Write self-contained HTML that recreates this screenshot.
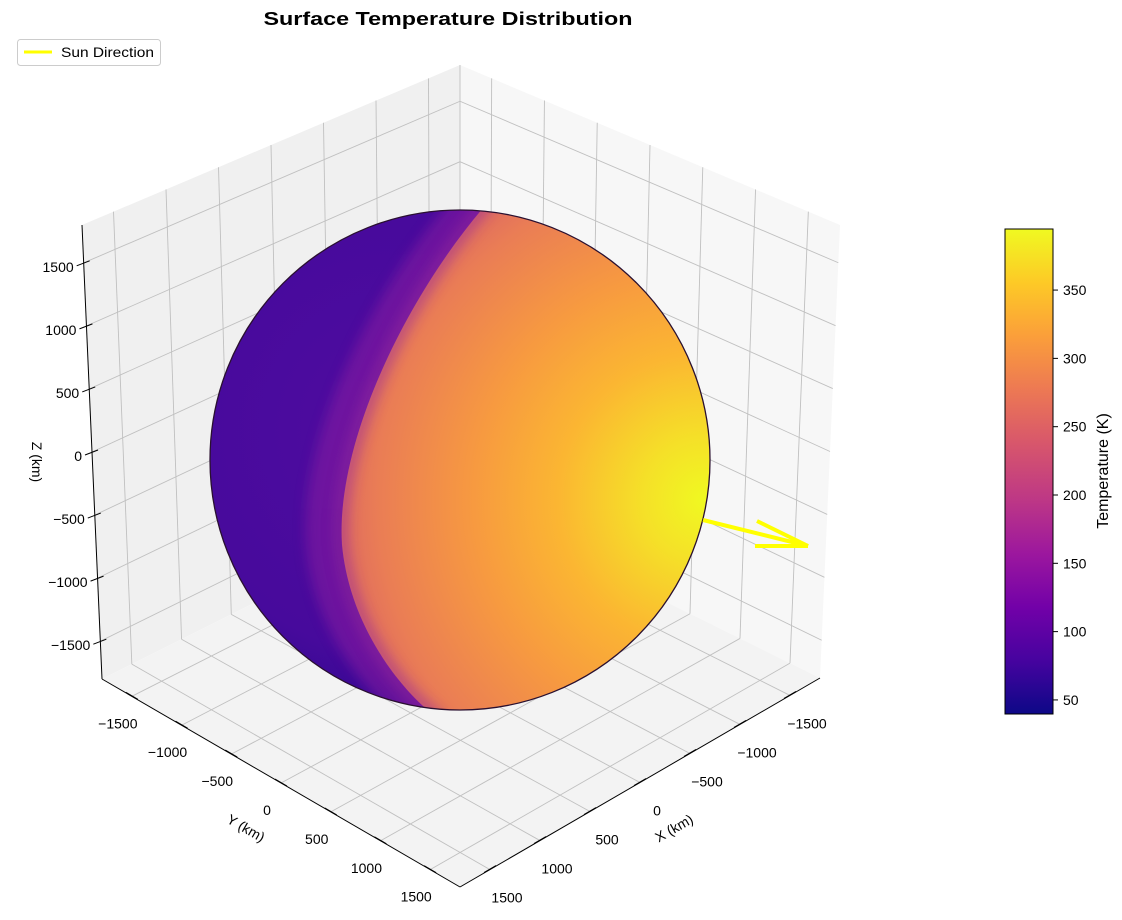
<!DOCTYPE html>
<html><head><meta charset="utf-8">
<style>
html,body{margin:0;padding:0;background:#fff;}
svg{display:block;font-family:"Liberation Sans","DejaVu Sans",sans-serif;}
</style></head>
<body>
<svg id="chart" width="1122" height="920" viewBox="0 0 1122 920" xmlns="http://www.w3.org/2000/svg">
<defs>
  <linearGradient id="plasma" x1="0" y1="1" x2="0" y2="0">
    <stop offset="0" stop-color="#0d0887"/><stop offset="0.11" stop-color="#46039f"/>
    <stop offset="0.22" stop-color="#7201a8"/><stop offset="0.33" stop-color="#9c179e"/>
    <stop offset="0.44" stop-color="#bd3786"/><stop offset="0.56" stop-color="#d8576b"/>
    <stop offset="0.67" stop-color="#ed7953"/><stop offset="0.78" stop-color="#fb9f3a"/>
    <stop offset="0.89" stop-color="#fdca26"/><stop offset="1" stop-color="#f0f921"/>
  </linearGradient>
  <radialGradient id="darkGrad" gradientUnits="userSpaceOnUse" cx="400" cy="430" r="280">
    <stop offset="0" stop-color="#4f0ca0"/><stop offset="0.8" stop-color="#470a9c"/><stop offset="1" stop-color="#360893"/>
  </radialGradient>
  <radialGradient id="litGrad" gradientUnits="userSpaceOnUse" cx="705" cy="500" r="420">
    <stop offset="0" stop-color="#f0f921"/><stop offset="0.15" stop-color="#f5e028"/>
    <stop offset="0.35" stop-color="#fbb632"/><stop offset="0.55" stop-color="#f79a40"/>
    <stop offset="0.78" stop-color="#ea7d55"/><stop offset="1" stop-color="#cf5270"/>
  </radialGradient>
  <clipPath id="sphereClip"><circle cx="460" cy="460" r="250"/></clipPath>
  <filter id="blur" x="-100%" y="-20%" width="300%" height="140%"><feGaussianBlur stdDeviation="6"/></filter>
</defs>
<g id="panes"></g>
<g id="grid"></g>
<g id="sphere">
  <circle cx="460" cy="460" r="250" fill="url(#darkGrad)"/>
  <g clip-path="url(#sphereClip)">
    <path d="M478,200 C395,290 318,440 326,545 C333,630 395,695 432,720" fill="none" stroke="#8a1aa0" stroke-width="40" opacity="0.55" filter="url(#blur)"/>
    <path d="M490,200 C410,290 335,440 342,545 C350,630 405,695 440,720 L720,720 L720,200 Z" fill="url(#litGrad)"/>
    <path d="M490,200 C410,290 335,440 342,545 C350,630 405,695 440,720" fill="none" stroke="#9a2a9a" stroke-width="14" opacity="0.5" filter="url(#blur)"/>
  </g>
  <circle cx="460" cy="460" r="250" fill="none" stroke="#2a1030" stroke-width="1.3"/>
</g>
<g id="sun-arrow" stroke="#ffff00" stroke-width="4" fill="none">
  <line x1="703" y1="520" x2="808" y2="546"/>
  <line x1="757" y1="521" x2="808" y2="546"/>
  <line x1="755" y1="546" x2="808" y2="546"/>
</g>
<g id="axes"></g>
<text x="448" y="25" text-anchor="middle" font-size="18" font-weight="bold" textLength="369" lengthAdjust="spacingAndGlyphs">Surface Temperature Distribution</text>
<g>
  <rect x="17.5" y="39.5" width="143" height="26" rx="3" fill="#fff" stroke="#cccccc"/>
  <line x1="24" y1="52" x2="52" y2="52" stroke="#ffff00" stroke-width="3"/>
  <text x="61" y="57" font-size="14" textLength="93" lengthAdjust="spacingAndGlyphs">Sun Direction</text>
</g>
<g id="colorbar"></g>
</svg>
<script>
const axisTicks = [-1500, -1000, -500, 0, 500, 1000, 1500];
const axisMin = -1800, axisMax = 1800;
const cbarTicks = [50, 100, 150, 200, 250, 300, 350];
const cbarMin = 39.7, cbarMax = 394.7;

const NS = "http://www.w3.org/2000/svg";
const floorC = [[460,500],[102,679],[820,678],[460,887]];
const topC = [[460,65],[82,225],[840,225],[460,387]];
function bil(c,u,v){
  const x=(1-u)*(1-v)*c[0][0]+u*(1-v)*c[1][0]+(1-u)*v*c[2][0]+u*v*c[3][0];
  const y=(1-u)*(1-v)*c[0][1]+u*(1-v)*c[1][1]+(1-u)*v*c[2][1]+u*v*c[3][1];
  return [x,y];
}
function P(x,y,z){
  const u=(x-axisMin)/(axisMax-axisMin), v=(y-axisMin)/(axisMax-axisMin), w=(z-axisMin)/(axisMax-axisMin);
  const b=bil(floorC,u,v), t=bil(topC,u,v);
  return [b[0]+w*(t[0]-b[0]), b[1]+w*(t[1]-b[1])];
}
function mk(parent,tag,attrs){
  const e=document.createElementNS(NS,tag);
  for(const k in attrs) e.setAttribute(k,attrs[k]);
  parent.appendChild(e); return e;
}
const lo=axisMin, hi=axisMax;
const panes=document.getElementById('panes');
function poly(pts,fill,name){
  const e=mk(panes,'polygon',{points:pts.map(p=>p.join(',')).join(' '),fill:fill});
  
  
}
poly([P(lo,lo,lo),P(hi,lo,lo),P(hi,lo,hi),P(lo,lo,hi)],'#f0f0f0','left-pane');
poly([P(lo,lo,lo),P(lo,hi,lo),P(lo,hi,hi),P(lo,lo,hi)],'#f7f7f7','right-pane');
poly([P(lo,lo,lo),P(hi,lo,lo),P(hi,hi,lo),P(lo,hi,lo)],'#f3f3f3','floor-pane');

const grid=document.getElementById('grid');
function gl(a,b,name){
  const e=mk(grid,'line',{x1:a[0],y1:a[1],x2:b[0],y2:b[1],stroke:'#c0c0c0','stroke-width':0.9});
  
  
}
gl(P(lo,lo,lo),P(lo,lo,hi),'back-edge');
axisTicks.forEach(t=>{
  gl(P(t,lo,lo),P(t,lo,hi),'gridline-x-left-pane');
  gl(P(lo,lo,t),P(hi,lo,t),'gridline-z-left-pane');
  gl(P(lo,t,lo),P(lo,t,hi),'gridline-y-right-pane');
  gl(P(lo,lo,t),P(lo,hi,t),'gridline-z-right-pane');
  gl(P(t,lo,lo),P(t,hi,lo),'gridline-x-floor');
  gl(P(lo,t,lo),P(hi,t,lo),'gridline-y-floor');
});

const axes=document.getElementById('axes');
function al(a,b,name,w){
  const e=mk(axes,'line',{x1:a[0],y1:a[1],x2:b[0],y2:b[1],stroke:'#000','stroke-width':w||1});
  
  
}
function tx(x,y,s,anchor,name,extra){
  const e=mk(axes,'text',Object.assign({x:x,y:y,'font-size':14,'text-anchor':anchor,fill:'#000'},extra||{}));
  e.textContent=s;
  
  
  return e;
}
function lab(t){return t<0?'\u2212'+Math.abs(t):String(t);}
al(P(hi,lo,lo),P(hi,lo,hi),'z-axis-line');
al(P(hi,lo,lo),P(hi,hi,lo),'y-axis-line');
al(P(hi,hi,lo),P(lo,hi,lo),'x-axis-line');
axisTicks.forEach(t=>{
  const pz=P(hi,lo,t);
  al([pz[0]-7,pz[1]+3],[pz[0]+6,pz[1]-2],'z-tick');
  tx(pz[0]-10,pz[1]+9,lab(t),'end','z-tick-label');
  const py=P(hi,t,lo);
  al([py[0]-6,py[1]-4],[py[0]+6,py[1]+3],'y-tick');
  tx(py[0]-14,py[1]+32,lab(t),'middle','y-tick-label');
  const px=P(t,hi,lo);
  al([px[0]-6,px[1]+3],[px[0]+6,px[1]-4],'x-tick');
  tx(px[0]+17,px[1]+33,lab(t),'middle','x-tick-label');
});
tx(36,462,'Z (km)','middle','z-axis-title',{transform:'rotate(90 36 462)',dy:'4'});
tx(246,833,'Y (km)','middle','y-axis-title',{transform:'rotate(30 246 828)'});
tx(674,833,'X (km)','middle','x-axis-title',{transform:'rotate(-30 674 828)'});

const cb=document.getElementById('colorbar');
const cbX=1005, cbW=48, cbTop=229, cbBot=714;
function cy(v){return cbBot-(v-cbarMin)/(cbarMax-cbarMin)*(cbBot-cbTop);}
const r=mk(cb,'rect',{x:cbX,y:cbTop,width:cbW,height:cbBot-cbTop,fill:'url(#plasma)',stroke:'#000','stroke-width':1});


cbarTicks.forEach(v=>{
  const y=cy(v);
  const l=mk(cb,'line',{x1:cbX+cbW,y1:y,x2:cbX+cbW+5,y2:y,stroke:'#000','stroke-width':1});
  
  
  const t=mk(cb,'text',{x:cbX+cbW+10,y:y+5,'font-size':14,fill:'#000'});
  t.textContent=String(v);
  
  
});
const ct=mk(cb,'text',{x:1108,y:471,'font-size':16,'text-anchor':'middle',transform:'rotate(-90 1108 471)',fill:'#000'});
ct.textContent='Temperature (K)';


</script>
</body></html>
